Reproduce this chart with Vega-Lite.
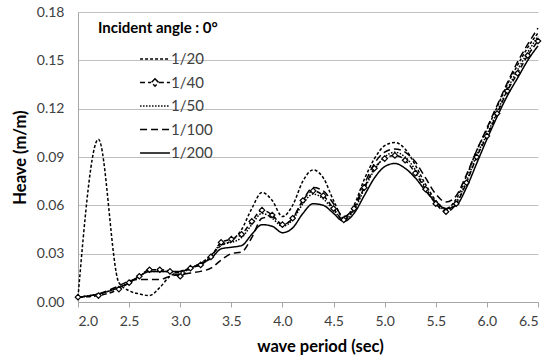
{
  "$schema": "https://vega.github.io/schema/vega-lite/v6.json",
  "width": 460,
  "height": 290,
  "autosize": "none",
  "padding": {"left": 78, "top": 12, "right": 9, "bottom": 62},
  "background": "white",
  "config": {
    "view": {"stroke": null},
    "font": "Lato",
    "axis": {"labelFont": "Lato", "titleFont": "Lato", "labelColor": "#404040", "titleColor": "#000000", "labelFontSize": 14, "titleFontSize": 16.5, "titleFontWeight": "bold"}
  },
  "data": {"values": [
    {"T":2.0,"1/20":0.003,"1/40":0.003,"1/50":0.003,"1/100":0.003,"1/200":0.003},
    {"T":2.2,"1/20":0.101,"1/40":0.004,"1/50":0.005,"1/100":0.005,"1/200":0.005},
    {"T":2.4,"1/20":0.012,"1/40":0.008,"1/50":0.009,"1/100":0.010,"1/200":0.009},
    {"T":2.5,"1/20":0.007,"1/40":0.012,"1/50":0.012,"1/100":0.013,"1/200":0.012},
    {"T":2.6,"1/20":0.005,"1/40":0.016,"1/50":0.016,"1/100":0.014,"1/200":0.016},
    {"T":2.7,"1/20":0.004,"1/40":0.020,"1/50":0.019,"1/100":0.014,"1/200":0.019},
    {"T":2.8,"1/20":0.009,"1/40":0.020,"1/50":0.019,"1/100":0.014,"1/200":0.019},
    {"T":2.9,"1/20":0.016,"1/40":0.019,"1/50":0.019,"1/100":0.016,"1/200":0.019},
    {"T":3.0,"1/20":0.019,"1/40":0.016,"1/50":0.018,"1/100":0.017,"1/200":0.019},
    {"T":3.1,"1/20":0.021,"1/40":0.021,"1/50":0.021,"1/100":0.018,"1/200":0.021},
    {"T":3.2,"1/20":0.024,"1/40":0.023,"1/50":0.024,"1/100":0.019,"1/200":0.024},
    {"T":3.3,"1/20":0.029,"1/40":0.028,"1/50":0.028,"1/100":0.021,"1/200":0.027},
    {"T":3.4,"1/20":0.035,"1/40":0.037,"1/50":0.036,"1/100":0.026,"1/200":0.033},
    {"T":3.5,"1/20":0.038,"1/40":0.039,"1/50":0.037,"1/100":0.030,"1/200":0.034},
    {"T":3.6,"1/20":0.045,"1/40":0.042,"1/50":0.040,"1/100":0.031,"1/200":0.035},
    {"T":3.7,"1/20":0.058,"1/40":0.050,"1/50":0.048,"1/100":0.040,"1/200":0.042},
    {"T":3.8,"1/20":0.068,"1/40":0.057,"1/50":0.055,"1/100":0.052,"1/200":0.048},
    {"T":3.9,"1/20":0.063,"1/40":0.054,"1/50":0.052,"1/100":0.053,"1/200":0.047},
    {"T":4.0,"1/20":0.053,"1/40":0.048,"1/50":0.047,"1/100":0.048,"1/200":0.043},
    {"T":4.1,"1/20":0.060,"1/40":0.052,"1/50":0.051,"1/100":0.052,"1/200":0.046},
    {"T":4.2,"1/20":0.075,"1/40":0.063,"1/50":0.061,"1/100":0.063,"1/200":0.055},
    {"T":4.3,"1/20":0.082,"1/40":0.069,"1/50":0.067,"1/100":0.071,"1/200":0.061},
    {"T":4.4,"1/20":0.077,"1/40":0.066,"1/50":0.064,"1/100":0.069,"1/200":0.060},
    {"T":4.5,"1/20":0.063,"1/40":0.058,"1/50":0.057,"1/100":0.061,"1/200":0.055},
    {"T":4.6,"1/20":0.052,"1/40":0.051,"1/50":0.051,"1/100":0.053,"1/200":0.050},
    {"T":4.7,"1/20":0.060,"1/40":0.058,"1/50":0.057,"1/100":0.059,"1/200":0.055},
    {"T":4.8,"1/20":0.076,"1/40":0.071,"1/50":0.070,"1/100":0.073,"1/200":0.066},
    {"T":4.9,"1/20":0.089,"1/40":0.083,"1/50":0.082,"1/100":0.086,"1/200":0.077},
    {"T":5.0,"1/20":0.097,"1/40":0.089,"1/50":0.090,"1/100":0.093,"1/200":0.084},
    {"T":5.1,"1/20":0.099,"1/40":0.091,"1/50":0.093,"1/100":0.095,"1/200":0.086},
    {"T":5.2,"1/20":0.095,"1/40":0.088,"1/50":0.090,"1/100":0.093,"1/200":0.083},
    {"T":5.3,"1/20":0.085,"1/40":0.080,"1/50":0.082,"1/100":0.087,"1/200":0.077},
    {"T":5.4,"1/20":0.073,"1/40":0.070,"1/50":0.071,"1/100":0.077,"1/200":0.069},
    {"T":5.5,"1/20":0.063,"1/40":0.061,"1/50":0.062,"1/100":0.067,"1/200":0.062},
    {"T":5.6,"1/20":0.058,"1/40":0.056,"1/50":0.057,"1/100":0.062,"1/200":0.058},
    {"T":5.7,"1/20":0.064,"1/40":0.061,"1/50":0.062,"1/100":0.066,"1/200":0.060},
    {"T":5.8,"1/20":0.078,"1/40":0.074,"1/50":0.075,"1/100":0.079,"1/200":0.071},
    {"T":5.9,"1/20":0.094,"1/40":0.090,"1/50":0.091,"1/100":0.094,"1/200":0.086},
    {"T":6.0,"1/20":0.107,"1/40":0.103,"1/50":0.104,"1/100":0.108,"1/200":0.101},
    {"T":6.1,"1/20":0.121,"1/40":0.117,"1/50":0.118,"1/100":0.122,"1/200":0.115},
    {"T":6.2,"1/20":0.135,"1/40":0.131,"1/50":0.132,"1/100":0.136,"1/200":0.128},
    {"T":6.3,"1/20":0.147,"1/40":0.142,"1/50":0.144,"1/100":0.149,"1/200":0.139},
    {"T":6.4,"1/20":0.158,"1/40":0.153,"1/50":0.155,"1/100":0.160,"1/200":0.150},
    {"T":6.5,"1/20":0.167,"1/40":0.162,"1/50":0.165,"1/100":0.170,"1/200":0.159}
  ]},
  "transform": [{"fold": ["1/20","1/40","1/50","1/100","1/200"], "as": ["s","H"]}],
  "encoding": {
    "x": {"field": "T", "type": "quantitative",
      "scale": {"domain": [2.0, 6.5], "nice": false, "zero": false},
      "axis": {"title": "wave period (sec)", "values": [2.0,2.5,3.0,3.5,4.0,4.5,5.0,5.5,6.0,6.5], "format": ".1f", "grid": false,
        "domainColor": "#a6a6a6", "tickColor": "#a6a6a6", "tickSize": 5, "labelPadding": 7, "titlePadding": 10, "titleX": 242}},
    "y": {"field": "H", "type": "quantitative",
      "scale": {"domain": [0, 0.18], "nice": false},
      "axis": {"title": "Heave (m/m)", "values": [0,0.03,0.06,0.09,0.12,0.15,0.18], "format": ".2f", "grid": true, "gridColor": "#c0c0c0",
        "ticks": false, "domainColor": "#a6a6a6", "labelPadding": 14, "titlePadding": 8}}
  },
  "layer": [
    {
      "mark": {"type": "line", "interpolate": "monotone", "color": "black"},
      "encoding": {
        "strokeDash": {"field": "s", "type": "nominal",
          "scale": {"domain": ["1/20","1/40","1/50","1/100","1/200"], "range": [[3,2],[5,3],[1.5,1.5],[7,4],[1,0]]},
          "legend": {"title": "Incident angle : 0°", "orient": "none", "legendX": 20, "legendY": 9, "padding": 0,
            "titleFont": "Lato", "titleFontSize": 15, "titleFontWeight": "bold", "titleColor": "#000000", "titlePadding": 10,
            "labelFont": "Lato", "labelFontSize": 15, "labelColor": "#404040", "labelOffset": 3,
            "symbolSize": 600, "symbolOffset": 44, "symbolStrokeColor": "black", "symbolStrokeWidth": 1.6, "rowPadding": 2.5,
            "encode": {"symbols": {"update": {
              "shape": {"signal": "datum.value === '1/40' ? 'M-1.22,0H-0.32M0.32,0H1.22M0,-0.3L0.3,0L0,0.3L-0.3,0Z' : 'M-1.22,0H1.22'"},
              "fill": {"value": "white"},
              "stroke": {"value": "black"},
              "strokeWidth": {"signal": "datum.value === '1/200' ? 3 : 1.7"}
            }}}}
        },
        "strokeWidth": {"field": "s", "type": "nominal",
          "scale": {"domain": ["1/20","1/40","1/50","1/100","1/200"], "range": [1.5,1.5,1.7,1.5,2.6]}, "legend": null}
      }
    },
    {
      "transform": [{"filter": "datum.s === '1/40'"}],
      "mark": {"type": "point", "shape": "diamond", "size": 30, "filled": true, "fill": "white", "stroke": "black", "strokeWidth": 1.2, "opacity": 1}
    }
  ]
}
